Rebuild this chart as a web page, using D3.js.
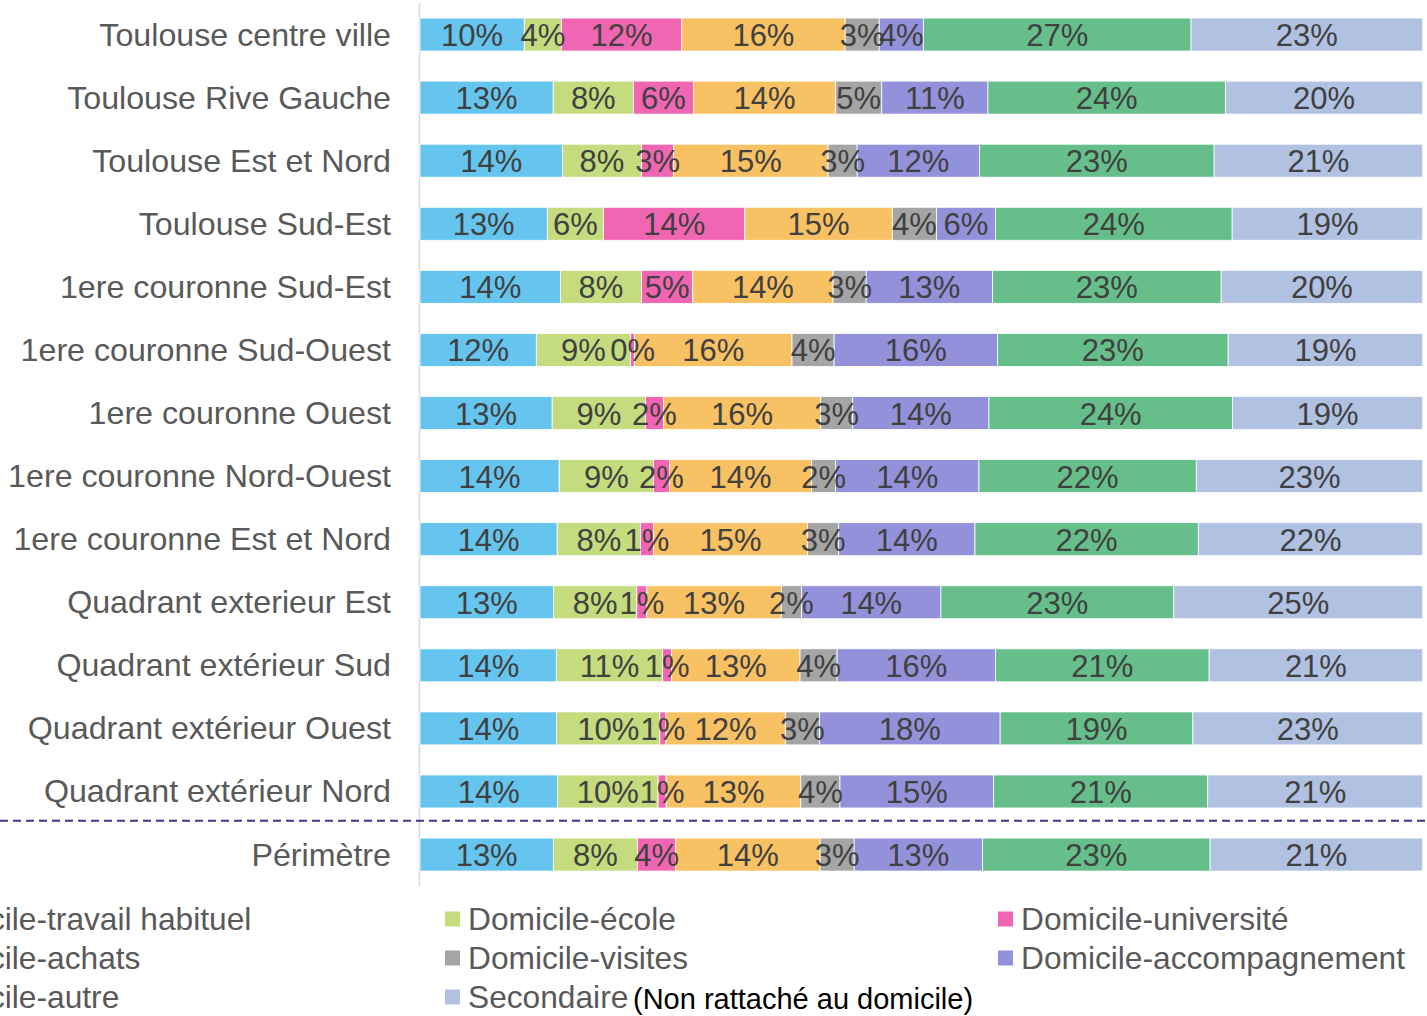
<!DOCTYPE html>
<html>
<head>
<meta charset="utf-8">
<script src="https://cdn.jsdelivr.net/npm/d3@7"></script>
<style>
  html, body { margin: 0; padding: 0; background: #fff; }
  svg { display: block; font-family: "Liberation Sans", Arial, sans-serif; }
</style>
</head>
<body>
<svg id="chart" width="1427" height="1016"></svg>
<script>
const categories = [
  "Toulouse centre ville",
  "Toulouse Rive Gauche",
  "Toulouse Est et Nord",
  "Toulouse Sud-Est",
  "1ere couronne Sud-Est",
  "1ere couronne Sud-Ouest",
  "1ere couronne Ouest",
  "1ere couronne Nord-Ouest",
  "1ere couronne Est et Nord",
  "Quadrant exterieur Est",
  "Quadrant extérieur Sud",
  "Quadrant extérieur Ouest",
  "Quadrant extérieur Nord",
  "Périmètre"
];

const seriesNames = [
  "Domicile-travail habituel",
  "Domicile-école",
  "Domicile-université",
  "Domicile-achats",
  "Domicile-visites",
  "Domicile-accompagnement",
  "Domicile-autre",
  "Secondaire"
];

const seriesColors = ["#66c5ef", "#c4db7e", "#f066b2", "#f8c163", "#a5a5a5", "#9491db", "#66bf8b", "#b1c1e2"];

const travail        = [10.4, 13.3, 14.2, 12.7, 14.0, 11.6, 13.2, 13.9, 13.7, 13.3, 13.6, 13.6, 13.7, 13.3];
const ecole          = [3.7, 8.0, 7.9, 5.6, 8.1, 9.4, 9.3, 9.4, 8.3, 8.3, 10.6, 10.3, 10.0, 8.4];
const universite     = [12.0, 6.0, 3.2, 14.1, 5.1, 0.4, 1.8, 1.6, 1.3, 1.0, 0.9, 0.6, 0.8, 3.8];
const achats         = [16.3, 14.2, 15.4, 14.7, 14.0, 15.7, 15.7, 14.2, 15.4, 13.4, 12.8, 11.9, 13.4, 14.4];
const visites        = [3.4, 4.6, 2.9, 4.4, 3.3, 4.2, 3.2, 2.4, 3.1, 2.0, 3.7, 3.4, 3.9, 3.4];
const accompagnement = [4.4, 10.6, 12.2, 5.9, 12.6, 16.3, 13.6, 14.3, 13.6, 13.9, 15.8, 18.0, 15.3, 12.8];
const autre          = [26.7, 23.7, 23.4, 23.6, 22.8, 23.0, 24.3, 21.7, 22.3, 23.2, 21.3, 19.2, 21.3, 22.7];
const secondaire     = [23.1, 19.7, 20.8, 19.0, 20.1, 19.4, 19.0, 22.6, 22.4, 24.8, 21.3, 22.9, 21.4, 21.2];

const seriesValues = [travail, ecole, universite, achats, visites, accompagnement, autre, secondaire];

const legendNote = "(Non rattaché au domicile)";

// build table
const rows = categories.map((c, i) => {
  const r = { cat: c };
  seriesNames.forEach((s, j) => { r[s] = seriesValues[j][i]; });
  return r;
});

const stack = d3.stack().keys(seriesNames).offset(d3.stackOffsetExpand);
const stacked = stack(rows);

const svg = d3.select("#chart");

const x = d3.scaleLinear().domain([0, 1]).range([420, 1422.7]);
const y = d3.scaleBand().domain(categories).range([3, 886.1]).paddingInner(0.477).paddingOuter(0.2385);
const color = d3.scaleOrdinal().domain(seriesNames).range(seriesColors);

// axis line
svg.append("line")
  .attr("x1", 419.5).attr("x2", 419.5)
  .attr("y1", y.range()[0]).attr("y2", y.range()[1])
  .attr("stroke", "#d9d9d9").attr("stroke-width", 1.5);

// bars
const layers = svg.append("g").selectAll("g")
  .data(stacked).join("g")
  .attr("fill", d => color(d.key));

layers.selectAll("rect")
  .data(d => d.map(p => ({ p, key: d.key })))
  .join("rect")
  .attr("x", d => x(d.p[0]))
  .attr("y", d => y(d.p.data.cat))
  .attr("width", d => Math.max(0, x(d.p[1]) - x(d.p[0])))
  .attr("height", y.bandwidth())
  .attr("stroke", "#ffffff")
  .attr("stroke-width", 0.8);

// value labels
const labels = svg.append("g");
stacked.forEach(layer => {
  layer.forEach(p => {
    const v = p.data[layer.key];
    labels.append("text")
      .attr("x", (x(p[0]) + x(p[1])) / 2)
      .attr("y", y(p.data.cat) + y.bandwidth() / 2 + 1)
      .attr("text-anchor", "middle")
      .attr("dominant-baseline", "central")
      .attr("font-size", "31px")
      .attr("fill", "#404040")
      .text(Math.round(v) + "%");
  });
});

// category labels
svg.append("g").selectAll("text")
  .data(categories).join("text")
  .attr("x", 391)
  .attr("y", d => y(d) + y.bandwidth() / 2)
  .attr("text-anchor", "end")
  .attr("dominant-baseline", "central")
  .attr("font-size", "32.2px")
  .attr("fill", "#595959")
  .text(d => d);

// dashed separator
const lastCat = categories[categories.length - 1];
svg.append("line")
  .attr("x1", 0).attr("x2", 1427)
  .attr("y1", y(lastCat) - 17.3).attr("y2", y(lastCat) - 17.3)
  .attr("stroke", "#3f3a88").attr("stroke-width", 2)
  .attr("stroke-dasharray", "8,5");

// legend
const colX = [-108, 445, 998];
const rowY = [919, 958, 997];
const legend = svg.append("g");
seriesNames.forEach((s, i) => {
  const cx = colX[i % 3];
  const cy = rowY[Math.floor(i / 3)];
  const g = legend.append("g");
  g.append("rect")
    .attr("x", cx).attr("y", cy - 7.5)
    .attr("width", 15).attr("height", 15)
    .attr("fill", color(s));
  g.append("text")
    .attr("x", cx + 23).attr("y", cy)
    .attr("dominant-baseline", "central")
    .attr("font-size", "31.7px")
    .attr("fill", "#595959")
    .text(s);
  if (s === "Secondaire") {
    g.append("text")
      .attr("x", 633).attr("y", cy + 2)
      .attr("dominant-baseline", "central")
      .attr("font-size", "29px")
      .attr("fill", "#000000")
      .text(legendNote);
  }
});
</script>
</body>
</html>
